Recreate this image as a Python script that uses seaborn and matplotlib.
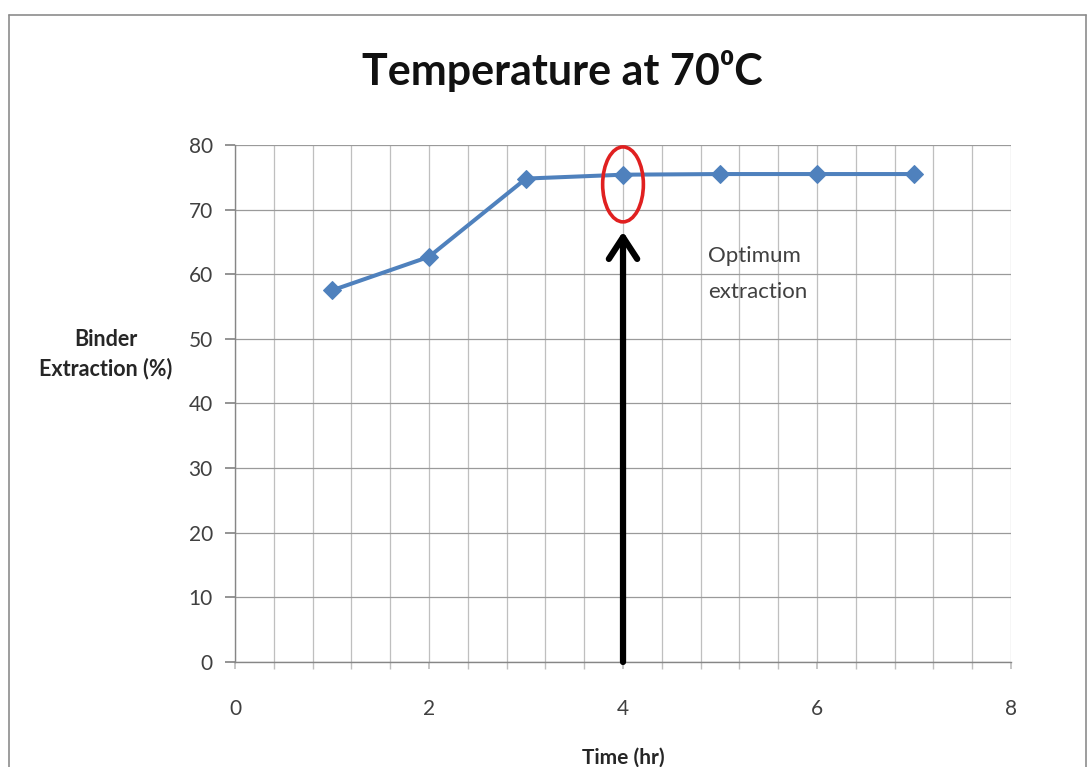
import matplotlib
matplotlib.use("Agg")
import matplotlib.pyplot as plt
import seaborn as sns
import pandas as pd
from matplotlib.patches import Ellipse
from matplotlib.lines import Line2D

time_hr = [1, 2, 3, 4, 5, 6, 7]
extraction = [57.5, 62.7, 74.8, 75.4, 75.5, 75.5, 75.5]
x_ticks = [0, 2, 4, 6, 8]
y_ticks = [0, 10, 20, 30, 40, 50, 60, 70, 80]
title_text = "Temperature at 70\u2070C"
xlabel_text = "Time (hr)"
ylabel_text = "Binder\nExtraction (%)"
note_text = "Optimum\nextraction"
optimum_x = 4

sns.set_theme(style="white")
plt.rcParams['font.family'] = ['Lato', 'DejaVu Sans']

df = pd.DataFrame({"time": time_hr, "extraction": extraction})

fig = plt.figure(figsize=(10.91, 7.67), dpi=100)
ax = fig.add_axes([0.2154, 0.1369, 0.9267 - 0.2154, 0.8110 - 0.1369])

sns.lineplot(data=df, x="time", y="extraction", ax=ax, color="#4F81BD",
             linewidth=2.9, marker="D", markersize=9.5, markeredgecolor="#4F81BD",
             zorder=3)

ax.set_xlim(0, 8)
ax.set_ylim(0, 80)
ax.set_xticks(x_ticks)
ax.set_xticks([i * 0.4 for i in range(21)], minor=True)
ax.set_yticks(y_ticks)
ax.grid(which="both", axis="x", color="#BFBFBF", linewidth=0.9)
ax.grid(which="major", axis="y", color="#9A9A9A", linewidth=0.9)
ax.set_axisbelow(True)
for s in ["top", "right"]:
    ax.spines[s].set_visible(False)
for s in ["left", "bottom"]:
    ax.spines[s].set_color("#868686")
    ax.spines[s].set_linewidth(1.0)
ax.tick_params(axis="y", which="major", direction="out", length=7, color="#868686",
               labelsize=15, labelcolor="#404040", pad=9, left=True)
ax.tick_params(axis="x", which="both", direction="out", length=5, color="#BFBFBF",
               bottom=True)
ax.tick_params(axis="x", which="major", labelsize=15, labelcolor="#404040", pad=22)

ax.set_xlabel(xlabel_text, fontsize=15, fontweight="bold", color="#262626", labelpad=20)
ax.set_ylabel(ylabel_text, fontsize=15.5, fontweight="bold", color="#262626",
              rotation=0, ha="center", va="center", linespacing=1.4)
ax.yaxis.set_label_coords(-0.167, 0.595)

fig.text(0.515, 0.907, title_text, fontsize=31, fontweight="bold", color="#111111",
         ha="center", va="center")

ell = Ellipse((optimum_x, 73.9), width=0.42, height=11.6, fill=False,
              edgecolor="#E02020", linewidth=2.6, zorder=4)
ax.add_patch(ell)

ax.annotate("", xy=(optimum_x, 66.6), xytext=(optimum_x, 0),
            arrowprops=dict(arrowstyle="->,head_length=1.3,head_width=0.85",
                            color="black", linewidth=4.5, shrinkA=0, shrinkB=0),
            zorder=5)

ax.text(4.88, 64.3, note_text, fontsize=16, color="#404040", ha="left", va="top",
        linespacing=1.95)

for line in [Line2D([0.008, 0.008], [0, 0.981]), Line2D([0.008, 0.995], [0.981, 0.981]),
             Line2D([0.995, 0.995], [0, 0.981])]:
    line.set_color("#8C8C8C")
    line.set_linewidth(1.2)
    line.set_transform(fig.transFigure)
    fig.add_artist(line)

fig.savefig("out.png", dpi=100)
